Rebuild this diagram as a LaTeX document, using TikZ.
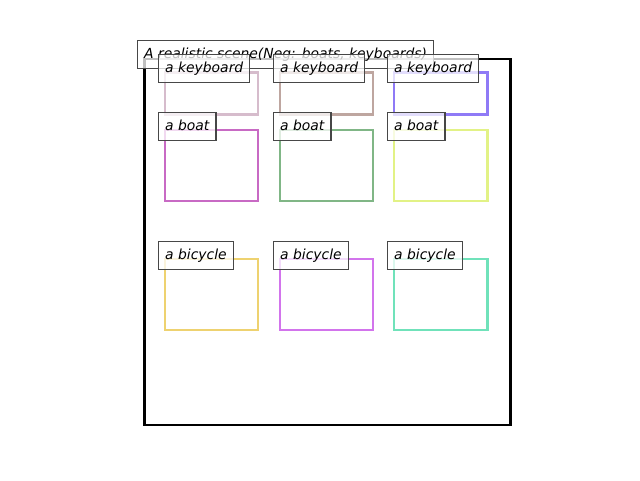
\documentclass[tikz,border=0pt]{standalone}
\usepackage{fontspec}
\setmainfont{DejaVu Sans}
\usetikzlibrary{positioning}
\definecolor{kbone}{RGB}{214,188,204}
\definecolor{kbtwo}{RGB}{190,166,160}
\definecolor{kbthree}{RGB}{143,122,246}
\definecolor{btone}{RGB}{200,106,196}
\definecolor{bttwo}{RGB}{128,182,134}
\definecolor{btthree}{RGB}{226,242,134}
\definecolor{bcone}{RGB}{238,210,112}
\definecolor{bctwo}{RGB}{210,116,236}
\definecolor{bcthree}{RGB}{112,226,186}
\tikzstyle{every node}=[font=\fontsize{13.9}{16}\selectfont\itshape]
\tikzstyle{tag}=[draw=black!72,line width=1.3pt,fill=white,fill opacity=0.75,text opacity=1,
  inner xsep=6.5pt,inner ysep=7pt,text height=10.6pt,text depth=3.3pt,anchor=north west]
\tikzstyle{region}=[line width=2.6pt]

\begin{document}
\begin{tikzpicture}[x=1pt,y=-1pt]
  \useasboundingbox (0,0) rectangle (640,480);
  % axes frame
  \draw[line width=2.6pt] (144.5,59) rectangle (510.5,425);
  % boxes, row by row
  \draw[region,kbone] (165,72.5) rectangle (258,114.5);
  \draw[region,kbtwo] (280,72.5) rectangle (373,114.5);
  \draw[region,kbthree] (394,72.5) rectangle (487.5,114.5);
  \draw[region,btone] (165,130) rectangle (258,201);
  \draw[region,bttwo] (280,130) rectangle (373,201);
  \draw[region,btthree] (394,130) rectangle (487.5,201);
  \draw[region,bcone] (165,259) rectangle (258,330);
  \draw[region,bctwo] (280,259) rectangle (373,330);
  \draw[region,bcthree] (394,259) rectangle (487.5,330);
  % labels
  \node[tag] (title) at (137,40) {A realistic scene(Neg: boats, keyboards)};
  \node[tag] (kbA) at (158,54) {a keyboard};
  \node[tag] (kbB) at (273,54) {a keyboard};
  \node[tag] (kbC) at (387,54) {a keyboard};
  \node[tag] (btA) at (158,112) {a boat};
  \node[tag] (btB) at (273,112) {a boat};
  \node[tag] (btC) at (387,112) {a boat};
  \node[tag] (bcA) at (158,241) {a bicycle};
  \node[tag] (bcB) at (273,241) {a bicycle};
  \node[tag] (bcC) at (387,241) {a bicycle};
\end{tikzpicture}
\end{document}
